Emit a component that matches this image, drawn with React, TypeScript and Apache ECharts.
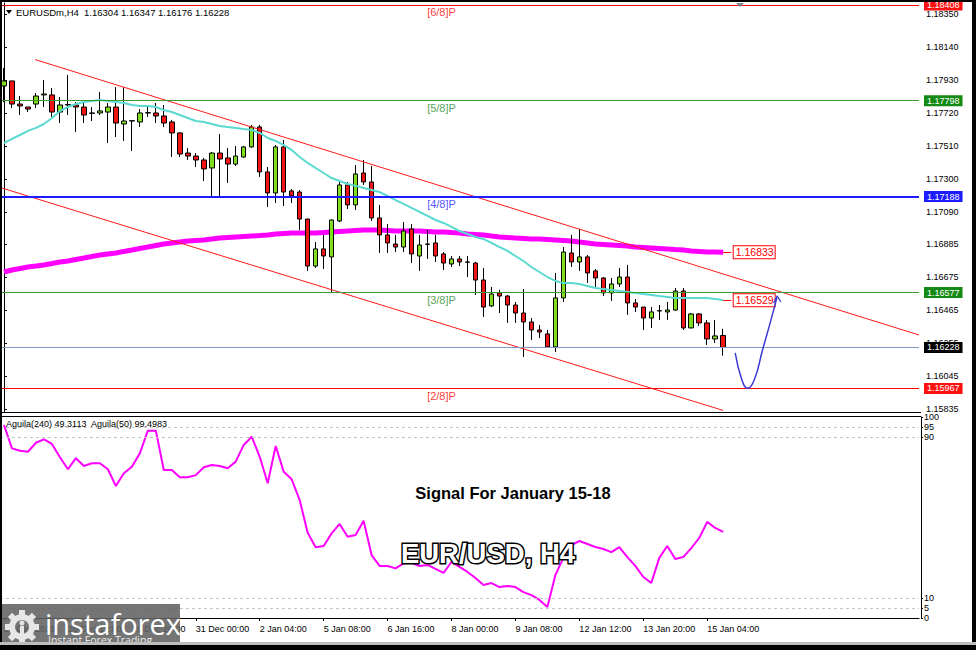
import React, { useEffect, useRef } from 'react';
import * as echarts from 'echarts';

// ---------- data ----------
const symbolTitle = 'EURUSDm,H4';
const xTickLabels = ['24 Dec 2025', '26 Dec 12:00', '29 Dec 20:00', '31 Dec 00:00', '2 Jan 04:00', '5 Jan 08:00', '6 Jan 16:00', '8 Jan 00:00', '9 Jan 08:00', '12 Jan 12:00', '13 Jan 20:00', '15 Jan 04:00'];
const barsPerTick = 8;
const slotCount = 115;

const opens = [
  1.17892, 1.17924, 1.17777, 1.17758, 1.17777, 1.17835, 1.17835, 1.17726, 1.17771, 1.17771,
  1.17758, 1.17720, 1.17720, 1.17726, 1.17758, 1.17650, 1.17669, 1.17663, 1.17720, 1.17720,
  1.17701, 1.17663, 1.17593, 1.17465, 1.17446, 1.17421, 1.17370, 1.17465, 1.17434, 1.17395,
  1.17440, 1.17504, 1.17631, 1.17345, 1.17211, 1.17504, 1.17224, 1.17217, 1.17045, 1.16746,
  1.16855, 1.16804, 1.17033, 1.17262, 1.17135, 1.17338, 1.17281, 1.17052, 1.16944, 1.16886,
  1.16867, 1.16982, 1.16810, 1.16886, 1.16893, 1.16823, 1.16759, 1.16791, 1.16772, 1.16765,
  1.16657, 1.16492, 1.16575, 1.16555, 1.16498, 1.16447, 1.16390, 1.16339, 1.16314, 1.16231,
  1.16543, 1.16829, 1.16772, 1.16804, 1.16715, 1.16670, 1.16575, 1.16632, 1.16676, 1.16511,
  1.16485, 1.16415, 1.16460, 1.16454, 1.16466, 1.16587, 1.16352, 1.16441, 1.16384, 1.16282,
  1.16304,
];
const closes = [
  1.17924, 1.17777, 1.17765, 1.17745, 1.17828, 1.17841, 1.17726, 1.17771, 1.17774, 1.17758,
  1.17707, 1.17718, 1.17733, 1.17758, 1.17656, 1.17669, 1.17671, 1.17720, 1.17722, 1.17701,
  1.17656, 1.17593, 1.17459, 1.17446, 1.17421, 1.17364, 1.17465, 1.17427, 1.17395, 1.17446,
  1.17504, 1.17631, 1.17345, 1.17211, 1.17504, 1.17217, 1.17192, 1.17045, 1.16746, 1.16855,
  1.16810, 1.17039, 1.17262, 1.17135, 1.17332, 1.17281, 1.17052, 1.16944, 1.16893, 1.16867,
  1.16969, 1.16823, 1.16880, 1.16884, 1.16810, 1.16765, 1.16791, 1.16772, 1.16770, 1.16657,
  1.16485, 1.16568, 1.16555, 1.16498, 1.16447, 1.16390, 1.16339, 1.16326, 1.16231, 1.16543,
  1.16835, 1.16772, 1.16804, 1.16702, 1.16670, 1.16575, 1.16632, 1.16676, 1.16511, 1.16485,
  1.16415, 1.16454, 1.16462, 1.16466, 1.16587, 1.16352, 1.16441, 1.16384, 1.16282, 1.16301,
  1.16228,
];
const highs = [
  1.18006, 1.17924, 1.17828, 1.17758, 1.17847, 1.17930, 1.17879, 1.17822, 1.17962, 1.17790,
  1.17784, 1.17758, 1.17854, 1.17784, 1.17885, 1.17885, 1.17672, 1.17745, 1.17758, 1.17784,
  1.17771, 1.17676, 1.17599, 1.17497, 1.17465, 1.17434, 1.17472, 1.17586, 1.17497, 1.17510,
  1.17510, 1.17644, 1.17644, 1.17376, 1.17516, 1.17548, 1.17236, 1.17230, 1.17048, 1.16899,
  1.16944, 1.17042, 1.17281, 1.17281, 1.17389, 1.17421, 1.17383, 1.17135, 1.17014, 1.16944,
  1.17026, 1.17014, 1.16944, 1.16975, 1.16944, 1.16835, 1.16810, 1.16810, 1.16810, 1.16772,
  1.16734, 1.16613, 1.16594, 1.16562, 1.16517, 1.16600, 1.16415, 1.16371, 1.16339, 1.16702,
  1.16867, 1.16944, 1.16982, 1.16816, 1.16727, 1.16676, 1.16670, 1.16734, 1.16753, 1.16536,
  1.16485, 1.16485, 1.16498, 1.16517, 1.16606, 1.16606, 1.16447, 1.16447, 1.16403, 1.16403,
  1.16347,
];
const lows = [
  1.17790, 1.17752, 1.17707, 1.17726, 1.17752, 1.17758, 1.17695, 1.17656, 1.17707, 1.17599,
  1.17656, 1.17669, 1.17707, 1.17529, 1.17567, 1.17542, 1.17478, 1.17631, 1.17695, 1.17656,
  1.17631, 1.17440, 1.17440, 1.17421, 1.17376, 1.17287, 1.17185, 1.17185, 1.17275, 1.17383,
  1.17436, 1.17500, 1.17313, 1.17122, 1.17147, 1.17128, 1.17147, 1.16975, 1.16715, 1.16734,
  1.16727, 1.16575, 1.17026, 1.17109, 1.17103, 1.17262, 1.17033, 1.16829, 1.16829, 1.16835,
  1.16835, 1.16765, 1.16715, 1.16791, 1.16772, 1.16721, 1.16740, 1.16746, 1.16676, 1.16562,
  1.16422, 1.16485, 1.16447, 1.16384, 1.16384, 1.16167, 1.16275, 1.16288, 1.16225, 1.16199,
  1.16517, 1.16740, 1.16715, 1.16638, 1.16613, 1.16555, 1.16524, 1.16613, 1.16435, 1.16454,
  1.16339, 1.16352, 1.16403, 1.16403, 1.16460, 1.16339, 1.16350, 1.16365, 1.16244, 1.16256,
  1.16176,
];

const maFast = [
  1.17529, 1.17555, 1.17580, 1.17606, 1.17625, 1.17650, 1.17688, 1.17733, 1.17758, 1.17777,
  1.17790, 1.17796, 1.17803, 1.17796, 1.17790, 1.17784, 1.17771, 1.17765, 1.17765, 1.17758,
  1.17739, 1.17726, 1.17707, 1.17688, 1.17669, 1.17663, 1.17650, 1.17637, 1.17631, 1.17625,
  1.17618, 1.17612, 1.17593, 1.17561, 1.17542, 1.17516, 1.17485, 1.17440, 1.17402, 1.17370,
  1.17338, 1.17306, 1.17287, 1.17268, 1.17256, 1.17243, 1.17230, 1.17217, 1.17192, 1.17166,
  1.17141, 1.17116, 1.17090, 1.17065, 1.17039, 1.17020, 1.16995, 1.16969, 1.16950, 1.16931,
  1.16918, 1.16893, 1.16867, 1.16842, 1.16810, 1.16778, 1.16740, 1.16708, 1.16676, 1.16651,
  1.16638, 1.16638, 1.16632, 1.16619, 1.16606, 1.16600, 1.16594, 1.16587, 1.16581, 1.16575,
  1.16568, 1.16562, 1.16555, 1.16549, 1.16543, 1.16543, 1.16543, 1.16543, 1.16543, 1.16536,
  1.16529,
];
const maSlow = [
  1.16708, 1.16721, 1.16730, 1.16740, 1.16746, 1.16753, 1.16762, 1.16772, 1.16778, 1.16788,
  1.16797, 1.16807, 1.16816, 1.16823, 1.16829, 1.16839, 1.16848, 1.16858, 1.16867, 1.16877,
  1.16886, 1.16893, 1.16899, 1.16905, 1.16909, 1.16912, 1.16918, 1.16924, 1.16928, 1.16931,
  1.16934, 1.16937, 1.16940, 1.16944, 1.16950, 1.16953, 1.16956, 1.16956, 1.16956, 1.16956,
  1.16959, 1.16963, 1.16966, 1.16969, 1.16972, 1.16975, 1.16975, 1.16975, 1.16972, 1.16969,
  1.16969, 1.16969, 1.16969, 1.16966, 1.16963, 1.16963, 1.16959, 1.16956, 1.16950, 1.16947,
  1.16944, 1.16937, 1.16931, 1.16928, 1.16924, 1.16921, 1.16918, 1.16918, 1.16915, 1.16912,
  1.16909, 1.16905, 1.16899, 1.16893, 1.16886, 1.16883, 1.16880, 1.16877, 1.16873, 1.16867,
  1.16864, 1.16861, 1.16858, 1.16855, 1.16851, 1.16848, 1.16842, 1.16839, 1.16835, 1.16835,
  1.16833,
];
const aguila = [
  96.0, 84.4, 83.2, 82.7, 87.2, 88.9, 86.6, 80.0, 74.0, 79.5,
  75.6, 77.0, 77.0, 74.0, 65.7, 72.0, 75.3, 81.9, 93.2, 93.2,
  73.6, 73.6, 70.0, 70.0, 71.1, 75.0, 76.1, 75.6, 74.5, 77.8,
  86.1, 90.2, 80.2, 67.0, 85.6, 72.8, 69.0, 58.7, 42.4, 35.2,
  35.8, 42.1, 46.8, 40.4, 41.3, 48.4, 31.3, 25.9, 25.9, 24.7,
  27.2, 27.4, 25.9, 26.4, 24.4, 22.4, 27.9, 25.4, 22.9, 19.9,
  16.4, 17.4, 15.4, 15.9, 15.4, 12.9, 11.4, 9.0, 5.5, 21.4,
  29.9, 36.3, 38.3, 36.8, 35.3, 34.3, 32.8, 35.3, 30.3, 25.9,
  20.4, 17.4, 29.9, 35.8, 29.4, 30.3, 34.8, 39.8, 47.8, 44.8,
  42.8,
];
const aguilaHeader = 'Aguila(240) 49.3113  Aguila(50) 99.4983';

const priceTicks = [1.15835, 1.16045, 1.16255, 1.16465, 1.16675, 1.16885, 1.17090, 1.17300, 1.17510, 1.17720, 1.17930, 1.18140, 1.18350];
const oscTicks = [0, 5, 10, 90, 95, 100];
const oscLevels = [5, 10, 90, 95];

const levelValues = [1.18408, 1.17798, 1.17188, 1.16577, 1.15967];
const levelNames = ['[6/8]P', '[5/8]P', '[4/8]P', '[3/8]P', '[2/8]P'];
const levelLineColors = ['#ff0000', '#3a9a30', '#1c1cff', '#3a9a30', '#ff0000'];
const levelBoxColors = ['#ff1010', '#138a13', '#1c1cff', '#138a13', '#ff1010'];
const levelTextColors = ['#ff0000', '#2a8a2a', '#2424ff', '#2a8a2a', '#ff0000'];
const levelWidths = [1, 1, 2, 1, 1];

const upperChannel = [[3.9, 1.18060], [114.5, 1.16307]];
const lowerChannel = [[-0.5, 1.17246], [90, 1.15827]];
const arrowPath = [[91.5, 1.16193], [92.34, 1.16021], [93.04, 1.15968], [93.88, 1.16021], [94.92, 1.16212], [95.875, 1.16384], [96.71, 1.16543]];
const arrowHead = [[96.3, 1.16511], [96.75, 1.16556], [97.2, 1.16518]];

// ---------- build ----------
const FONT = 'Liberation Sans';
const lastIdx = closes.length - 1;
const categories = Array.from({ length: slotCount }, (_, i) => String(i));
const candles = opens.map((o, i) => [o, closes[i], lows[i], highs[i]]);
const isTick = (i: number) => i % barsPerTick === 0 && i / barsPerTick < xTickLabels.length;

const boxLabel = (text: string, bg: string) => ({
  show: true, position: 'end', distance: 5, formatter: text,
  color: '#fff', backgroundColor: bg, padding: [1, 3, 0, 3],
  fontSize: 9, fontFamily: FONT, lineHeight: 10,
});
const levelMarkLines: any[] = levelValues.map((v, i) => ({
  yAxis: v,
  lineStyle: { color: levelLineColors[i], width: levelWidths[i], type: 'solid' },
  label: boxLabel(v.toFixed(5), levelBoxColors[i]),
}));
levelMarkLines.push({
  yAxis: closes[lastIdx],
  lineStyle: { color: '#8795c4', width: 1, type: 'solid' },
  label: boxLabel(closes[lastIdx].toFixed(5), '#000'),
});

const maLabel = (v: number) => ({
  symbol: 'circle', symbolSize: 1, itemStyle: { color: 'rgba(0,0,0,0)' },
  label: {
    show: true, position: 'right', distance: 10, formatter: v.toFixed(5),
    color: '#ff0000', backgroundColor: '#fff', borderColor: '#ff0000', borderWidth: 1,
    padding: [1, 1, 0, 2], fontSize: 10.5, fontFamily: FONT, lineHeight: 11,
  },
  data: [{ coord: [lastIdx, v] }],
});
const maConnector = (v: number) => ({
  silent: true, symbol: 'none', precision: 5,
  lineStyle: { color: '#ff0000', width: 1, type: 'solid' },
  label: { show: false },
  data: [[{ coord: [lastIdx, v] }, { coord: [lastIdx + 1, v] }]],
});

const gearTeeth = Array.from({ length: 8 }, (_, k) => ({
  type: 'rect',
  x: 22, y: 627, rotation: (k * Math.PI) / 4,
  shape: { x: -3, y: -17, width: 6, height: 6 },
  style: { fill: '#e6e6e6' },
}));

const option: any = {
  animation: false,
  backgroundColor: '#ffffff',
  textStyle: { fontFamily: FONT },
  grid: [
    { left: -1, width: 920, top: 3, height: 409 },
    { left: -1, width: 920, top: 417, height: 201 },
  ],
  xAxis: [
    {
      type: 'category', gridIndex: 0, data: categories, boundaryGap: true,
      axisLine: { show: false }, axisTick: { show: false }, axisLabel: { show: false }, splitLine: { show: false },
    },
    {
      type: 'category', gridIndex: 1, data: categories, boundaryGap: true,
      axisLine: { show: true, lineStyle: { color: '#000', width: 1 } },
      axisTick: { show: true, alignWithLabel: true, interval: (i: number) => isTick(i), length: 3, lineStyle: { color: '#000' } },
      axisLabel: {
        show: true, interval: (i: number) => isTick(i), align: 'left', margin: 6,
        fontSize: 9, color: '#000', fontFamily: FONT,
        formatter: (_v: string, i: number) => (isTick(i) ? xTickLabels[i / barsPerTick] : ''),
      },
      splitLine: { show: false },
    },
    { type: 'value', gridIndex: 0, min: -0.5, max: slotCount - 0.5, show: false },
  ],
  yAxis: [
    {
      type: 'value', gridIndex: 0, position: 'right', offset: 2, min: 1.15817, max: 1.18420, scale: true,
      splitLine: { show: false },
      axisLine: { show: true, lineStyle: { color: '#000', width: 1 } },
      axisTick: { show: true, length: 3, customValues: priceTicks, lineStyle: { color: '#000' } },
      axisLabel: { show: true, customValues: priceTicks, margin: 5, fontSize: 9, color: '#000', fontFamily: FONT, formatter: (v: number) => v.toFixed(5) },
    },
    {
      type: 'value', gridIndex: 1, position: 'right', offset: 2, min: 0, max: 100,
      splitLine: { show: false },
      axisLine: { show: true, lineStyle: { color: '#000', width: 1 } },
      axisTick: { show: true, length: 2, customValues: oscTicks, lineStyle: { color: '#000' } },
      axisLabel: { show: true, customValues: oscTicks, margin: 3, fontSize: 9, color: '#000', fontFamily: FONT },
    },
  ],
  series: [
    {
      type: 'candlestick', xAxisIndex: 0, yAxisIndex: 0, data: candles, barWidth: 5,
      itemStyle: { color: '#7fdf1f', color0: '#f01414', borderColor: '#000', borderColor0: '#000', borderWidth: 1 },
      z: 3,
    },
    {
      type: 'line', xAxisIndex: 0, yAxisIndex: 0, data: maFast, symbol: 'none',
      lineStyle: { color: '#5ad9d1', width: 2 }, z: 4,
      markPoint: maLabel(maFast[lastIdx]), markLine: maConnector(maFast[lastIdx]),
    },
    {
      type: 'line', xAxisIndex: 0, yAxisIndex: 0, data: maSlow, symbol: 'none',
      lineStyle: { color: '#ff00ff', width: 5 }, z: 2,
      markPoint: maLabel(maSlow[lastIdx]), markLine: maConnector(maSlow[lastIdx]),
    },
    {
      type: 'line', xAxisIndex: 2, yAxisIndex: 0, data: upperChannel, symbol: 'none', lineStyle: { color: '#ff1a1a', width: 1 }, z: 4,
      markLine: { silent: true, symbol: 'none', precision: 5, data: levelMarkLines },
    },
    { type: 'line', xAxisIndex: 2, yAxisIndex: 0, data: lowerChannel, symbol: 'none', lineStyle: { color: '#ff1a1a', width: 1 }, z: 4 },
    { type: 'line', xAxisIndex: 2, yAxisIndex: 0, data: arrowPath, smooth: 0.5, symbol: 'none', lineStyle: { color: '#3a3ad6', width: 1.5 }, z: 5 },
    { type: 'line', xAxisIndex: 2, yAxisIndex: 0, data: arrowHead, symbol: 'none', lineStyle: { color: '#3a3ad6', width: 1.2 }, z: 5 },
    {
      type: 'scatter', xAxisIndex: 2, yAxisIndex: 0, symbolSize: 1, itemStyle: { color: 'rgba(0,0,0,0)' }, z: 6,
      data: levelValues.map((v, i) => ({
        value: [54.75, v],
        label: { show: true, position: 'inside', offset: [0, 7.5], formatter: levelNames[i], color: levelTextColors[i], fontSize: 11, fontFamily: FONT },
      })),
    },
    {
      type: 'line', xAxisIndex: 1, yAxisIndex: 1, data: aguila, symbol: 'none',
      lineStyle: { color: '#ff00ff', width: 2 }, z: 4,
      markLine: {
        silent: true, symbol: 'none', label: { show: false },
        lineStyle: { color: '#c4c4c4', width: 1, type: [3, 3] },
        data: oscLevels.map((v) => ({ yAxis: v })),
      },
    },
  ],
  graphic: [
    // window frame
    { type: 'rect', shape: { x: 0, y: 0, width: 976, height: 2 }, style: { fill: '#000' }, z: 100 },
    { type: 'rect', shape: { x: 0, y: 0, width: 2, height: 650 }, style: { fill: '#000' }, z: 100 },
    { type: 'rect', shape: { x: 972, y: 0, width: 4, height: 650 }, style: { fill: '#000' }, z: 100 },
    { type: 'rect', shape: { x: 0, y: 642, width: 976, height: 3 }, style: { fill: '#bdbdbd' }, z: 100 },
    { type: 'rect', shape: { x: 0, y: 645, width: 976, height: 5 }, style: { fill: '#000' }, z: 100 },
    // panel separators
    { type: 'line', shape: { x1: 0, y1: 412.5, x2: 921, y2: 412.5 }, style: { stroke: '#000', lineWidth: 1 }, z: 50 },
    { type: 'line', shape: { x1: 0, y1: 416.5, x2: 921, y2: 416.5 }, style: { stroke: '#000', lineWidth: 1 }, z: 50 },
    // header
    { type: 'polygon', shape: { points: [[6, 10], [12, 10], [9, 14]] }, style: { fill: '#000' }, z: 50 },
    {
      type: 'text', x: 16, y: 12, z: 50,
      style: {
        text: `${symbolTitle}  ${opens[lastIdx].toFixed(5)} ${highs[lastIdx].toFixed(5)} ${lows[lastIdx].toFixed(5)} ${closes[lastIdx].toFixed(5)}`,
        fill: '#000', fontSize: 9.5, fontFamily: FONT, verticalAlign: 'middle',
      },
    },
    { type: 'polygon', shape: { points: [[736, 3], [744, 3], [740, 7]] }, style: { fill: '#7a8a9a' }, z: 50 },
    {
      type: 'text', x: 6, y: 424, z: 50,
      style: { text: aguilaHeader, fill: '#000', fontSize: 9, fontFamily: FONT, verticalAlign: 'middle' },
    },
    // overlay titles
    {
      type: 'text', x: 513, y: 493, z: 60,
      style: {
        text: 'Signal For January 15-18', fill: '#000', fontSize: 16.5, fontWeight: 'bold', fontFamily: FONT,
        align: 'center', verticalAlign: 'middle',
        shadowColor: 'rgba(0,0,0,0.45)', shadowBlur: 3, shadowOffsetX: 2, shadowOffsetY: 2,
      },
    },
    {
      type: 'text', x: 488, y: 553, z: 60,
      style: {
        text: 'EUR/USD, H4', fill: '#ffffff', stroke: '#000', lineWidth: 3, fontSize: 27.5, fontWeight: 'bold', fontFamily: FONT,
        align: 'center', verticalAlign: 'middle',
        shadowColor: 'rgba(0,0,0,0.5)', shadowBlur: 3, shadowOffsetX: 2, shadowOffsetY: 2,
      },
    },
    // logo
    { type: 'rect', shape: { x: 0, y: 604, width: 180, height: 44 }, style: { fill: 'rgba(98,98,98,0.88)' }, z: 80 },
    { type: 'ring', shape: { cx: 22, cy: 627, r: 13, r0: 7 }, style: { fill: '#e6e6e6' }, z: 81 },
    ...gearTeeth.map((t) => ({ ...t, z: 81 })),
    { type: 'circle', shape: { cx: 22, cy: 623, r: 2.5 }, style: { fill: '#e6e6e6' }, z: 81 },
    { type: 'rect', shape: { x: 20, y: 626, width: 4, height: 8 }, style: { fill: '#e6e6e6' }, z: 81 },
    {
      type: 'text', x: 45, y: 623, z: 82,
      style: { text: 'instaforex', fill: '#ffffff', fontSize: 29, fontFamily: 'Open Sans', verticalAlign: 'middle' },
    },
    {
      type: 'text', x: 48, y: 640, z: 82,
      style: { text: 'Instant Forex Trading', fill: '#f0f0f0', fontSize: 10.5, fontFamily: 'Open Sans', verticalAlign: 'middle' },
    },
  ],
};

export default function App() {
  const ref = useRef<HTMLDivElement>(null);
  useEffect(() => {
    const chart = echarts.init(ref.current as HTMLDivElement, null, { renderer: 'svg' });
    chart.setOption(option);
    return () => chart.dispose();
  }, []);
  return (
    <div
      ref={ref}
      style={{ position: 'fixed', left: 0, top: 0, width: 976, height: 650, background: '#fff' }}
    />
  );
}
